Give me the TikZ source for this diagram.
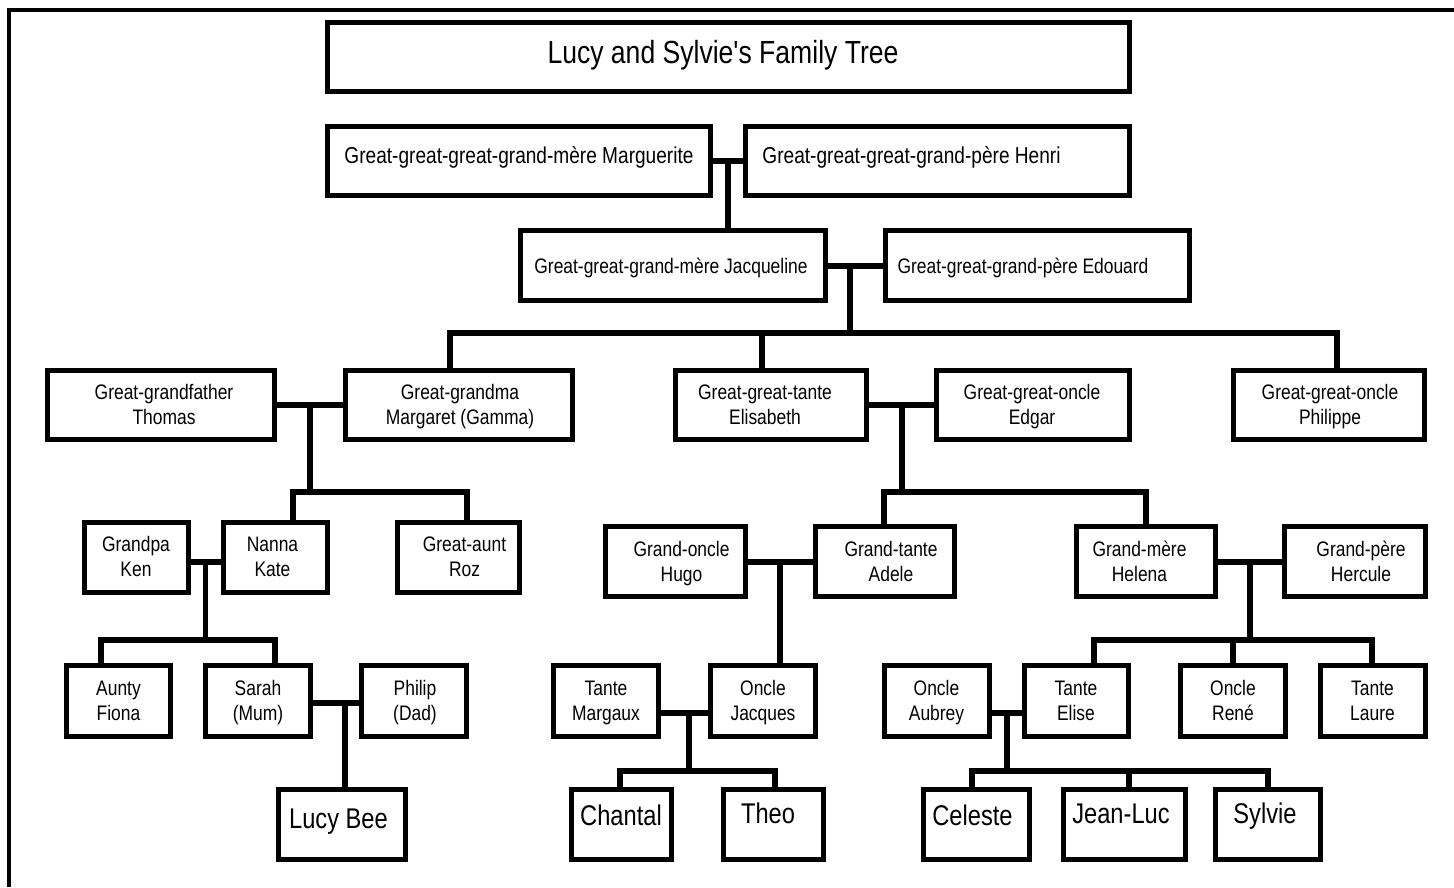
\documentclass[tikz,border=0pt]{standalone}
\usepackage{fontspec}
\setmainfont{Liberation Sans}[FakeStretch=0.83, Ligatures=TeXOff]
\newcommand\twol[2]{\begin{tabular}[t]{@{}c@{}}#1\\#2\end{tabular}}
\newcommand\famnode[5]{%
  \node[famb, minimum width={(#4-#2-5)*1pt}, minimum height={(#5-#3-5)*1pt}] (#1) at ({(#2+#4)/2},{(#3+#5)/2}) {};}
\begin{document}
\begin{tikzpicture}[x=1pt,y=-1pt,
  famb/.style={draw=black, line width=5pt, inner sep=0pt, fill=white},
  lbl/.style={inner sep=0pt, anchor=base, font=\fontsize{21}{25}\selectfont},
  lblrow/.style={lbl, font=\fontsize{23}{27}\selectfont},
  lblbig/.style={lbl, font=\fontsize{28.5}{34}\selectfont},
  lbltitle/.style={lbl, font=\fontsize{32}{38}\selectfont},
  link/.style={line width=5.5pt, line join=miter}]
\useasboundingbox (0,0) rectangle (1454,887);
\draw[line width=3.3pt] (9,887) -- (9,10) -- (1454,10);

% title
\famnode{title}{325}{20}{1132}{94}
\node[lbltitle] (title-t) at (723,63) {Lucy and Sylvie's Family Tree};

% generation 1
\famnode{marg}{325}{124}{713}{198}
\node[lblrow] (marg-t) at (519,163) {Great-great-great-grand-mère Marguerite};
\famnode{henri}{743}{124}{1132}{198}
\node[lblrow] (henri-t) at (911.5,163) {Great-great-great-grand-père Henri};

% generation 2
\famnode{jacq}{518}{228}{828}{303}
\node[lbl] (jacq-t) at (671,273) {Great-great-grand-mère Jacqueline};
\famnode{edou}{883}{228}{1192}{303}
\node[lbl] (edou-t) at (1023,273) {Great-great-grand-père Edouard};

% generation 3
\famnode{thomas}{45}{368}{277}{442}
\node[lbl] (thomas-t) at (164,399) {\twol{Great-grandfather}{Thomas}};
\famnode{margaret}{343}{368}{575}{442}
\node[lbl] (margaret-t) at (460,399) {\twol{Great-grandma}{Margaret (Gamma)}};
\famnode{elis}{673}{368}{869}{442}
\node[lbl] (elis-t) at (765,399) {\twol{Great-great-tante}{Elisabeth}};
\famnode{edgar}{934}{368}{1132}{442}
\node[lbl] (edgar-t) at (1032,399) {\twol{Great-great-oncle}{Edgar}};
\famnode{phil}{1231}{368}{1427}{442}
\node[lbl] (phil-t) at (1330,399) {\twol{Great-great-oncle}{Philippe}};

% generation 4
\famnode{ken}{82}{520}{191}{595}
\node[lbl] (ken-t) at (136,551) {\twol{Grandpa}{Ken}};
\famnode{kate}{221}{520}{330}{595}
\node[lbl] (kate-t) at (272.5,551) {\twol{Nanna}{Kate}};
\famnode{roz}{395}{520}{522}{595}
\node[lbl] (roz-t) at (464.5,551) {\twol{Great-aunt}{Roz}};
\famnode{hugo}{603}{524}{748}{599}
\node[lbl] (hugo-t) at (681.5,556) {\twol{Grand-oncle}{Hugo}};
\famnode{adele}{813}{524}{957}{599}
\node[lbl] (adele-t) at (891,556) {\twol{Grand-tante}{Adele}};
\famnode{helena}{1074}{524}{1218}{599}
\node[lbl] (helena-t) at (1139.5,556) {\twol{Grand-mère}{Helena}};
\famnode{hercule}{1282}{524}{1428}{599}
\node[lbl] (hercule-t) at (1361,556) {\twol{Grand-père}{Hercule}};

% generation 5
\famnode{fiona}{64}{663}{173}{739}
\node[lbl] (fiona-t) at (118.5,695) {\twol{Aunty}{Fiona}};
\famnode{sarah}{203}{663}{313}{739}
\node[lbl] (sarah-t) at (258,695) {\twol{Sarah}{(Mum)}};
\famnode{philip}{359}{663}{469}{739}
\node[lbl] (philip-t) at (415,695) {\twol{Philip}{(Dad)}};
\famnode{margaux}{551}{663}{661}{739}
\node[lbl] (margaux-t) at (606,695) {\twol{Tante}{Margaux}};
\famnode{jacques}{708}{663}{818}{739}
\node[lbl] (jacques-t) at (763,695) {\twol{Oncle}{Jacques}};
\famnode{aubrey}{882}{663}{992}{739}
\node[lbl] (aubrey-t) at (936.5,695) {\twol{Oncle}{Aubrey}};
\famnode{elise}{1022}{663}{1131}{739}
\node[lbl] (elise-t) at (1076,695) {\twol{Tante}{Elise}};
\famnode{rene}{1178}{663}{1288}{739}
\node[lbl] (rene-t) at (1233,695) {\twol{Oncle}{René}};
\famnode{laure}{1318}{663}{1428}{739}
\node[lbl] (laure-t) at (1372.5,695) {\twol{Tante}{Laure}};

% generation 6
\famnode{lucy}{276}{787}{408}{862}
\node[lblbig] (lucy-t) at (338.5,828) {Lucy Bee};
\famnode{chantal}{569}{787}{674}{862}
\node[lblbig] (chantal-t) at (621,825) {Chantal};
\famnode{theo}{721}{787}{826}{862}
\node[lblbig] (theo-t) at (768,823) {Theo};
\famnode{celeste}{921}{787}{1032}{862}
\node[lblbig] (celeste-t) at (972.5,825.5) {Celeste};
\famnode{jeanluc}{1061}{787}{1188}{862}
\node[lblbig] (jeanluc-t) at (1121,823) {Jean-Luc};
\famnode{sylvie}{1213}{787}{1323}{862}
\node[lblbig] (sylvie-t) at (1265,823) {Sylvie};

% connectors
\coordinate (m1) at (728,161);
\draw[link] (marg.east |- m1) -- (henri.west |- m1);
\draw[link] (m1) -- (jacq.north -| m1);

\coordinate (m2) at (850,266);
\coordinate (b2) at (850,333);
\coordinate (b2l) at (450,333);
\coordinate (b2m) at (762,333);
\coordinate (b2r) at (1337,333);
\draw[link] (jacq.east |- m2) -- (edou.west |- m2);
\draw[link] (m2) -- (b2);
\draw[link] (margaret.north -| b2l) -- (b2l) -- (b2r) -- (phil.north -| b2r);
\draw[link] (b2m) -- (elis.north -| b2m);

\coordinate (m3a) at (310,405);
\coordinate (b3a) at (310,492);
\coordinate (b3al) at (293,492);
\coordinate (b3ar) at (467,492);
\draw[link] (thomas.east |- m3a) -- (margaret.west |- m3a);
\draw[link] (m3a) -- (b3a);
\draw[link] (kate.north -| b3al) -- (b3al) -- (b3ar) -- (roz.north -| b3ar);

\coordinate (m3b) at (902,405);
\coordinate (b3b) at (902,492);
\coordinate (b3bl) at (884,492);
\coordinate (b3br) at (1146,492);
\draw[link] (elis.east |- m3b) -- (edgar.west |- m3b);
\draw[link] (m3b) -- (b3b);
\draw[link] (adele.north -| b3bl) -- (b3bl) -- (b3br) -- (helena.north -| b3br);

\coordinate (m4a) at (205.5,562);
\coordinate (b4a) at (205.5,640);
\coordinate (b4al) at (101,640);
\coordinate (b4ar) at (275,640);
\draw[link] (ken.east |- m4a) -- (kate.west |- m4a);
\draw[link] (m4a) -- (b4a);
\draw[link] (fiona.north -| b4al) -- (b4al) -- (b4ar) -- (sarah.north -| b4ar);

\coordinate (m4b) at (780,562);
\draw[link] (hugo.east |- m4b) -- (adele.west |- m4b);
\draw[link] (m4b) -- (jacques.north -| m4b);

\coordinate (m4c) at (1250,562);
\coordinate (b4c) at (1250,640);
\coordinate (b4cl) at (1094,640);
\coordinate (b4cm) at (1233,640);
\coordinate (b4cr) at (1372,640);
\draw[link] (helena.east |- m4c) -- (hercule.west |- m4c);
\draw[link] (m4c) -- (b4c);
\draw[link] (elise.north -| b4cl) -- (b4cl) -- (b4cr) -- (laure.north -| b4cr);
\draw[link] (b4cm) -- (rene.north -| b4cm);

\coordinate (m5a) at (345,703);
\draw[link] (sarah.east |- m5a) -- (philip.west |- m5a);
\draw[link] (m5a) -- (lucy.north -| m5a);

\coordinate (m5b) at (689,713);
\coordinate (b5b) at (689,771);
\coordinate (b5bl) at (620,771);
\coordinate (b5br) at (775,771);
\draw[link] (margaux.east |- m5b) -- (jacques.west |- m5b);
\draw[link] (m5b) -- (b5b);
\draw[link] (chantal.north -| b5bl) -- (b5bl) -- (b5br) -- (theo.north -| b5br);

\coordinate (m5c) at (1007,713);
\coordinate (b5c) at (1007,771);
\coordinate (b5cl) at (972,771);
\coordinate (b5cm) at (1129,771);
\coordinate (b5cr) at (1268,771);
\draw[link] (aubrey.east |- m5c) -- (elise.west |- m5c);
\draw[link] (m5c) -- (b5c);
\draw[link] (celeste.north -| b5cl) -- (b5cl) -- (b5cr) -- (sylvie.north -| b5cr);
\draw[link] (b5cm) -- (jeanluc.north -| b5cm);
\end{tikzpicture}
\end{document}
